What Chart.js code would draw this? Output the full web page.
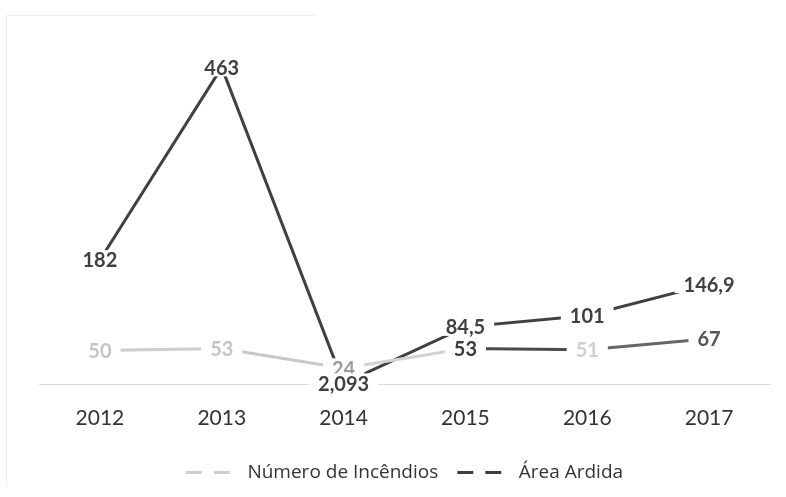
<!DOCTYPE html>
<html>
<head>
<meta charset="utf-8">
<script src="https://cdn.jsdelivr.net/npm/chart.js@4"></script>
<style>
  html, body { margin: 0; padding: 0; background: #fff; }
  #wrap { position: relative; width: 786px; height: 497px; }
  #borda { position: absolute; left: 6px; top: 15px; width: 310px; height: 470px;
           border-left: 1px solid #eee; border-top: 1px solid #f0f0f0; }
</style>
</head>
<body>
<div id="wrap">
  <div id="borda"></div>
  <canvas id="grafico" width="786" height="497"></canvas>
</div>
<script>
// Dados do gráfico
var anos = ['2012', '2013', '2014', '2015', '2016', '2017'];
var numeroIncendios = [50, 53, 24, 53, 51, 67];
var areaArdida = [182, 463, 2.093, 84.5, 101, 146.9];
var rotulosIncendios = ['50', '53', '24', '53', '51', '67'];
var rotulosArea = ['182', '463', '2,093', '84,5', '101', '146,9'];

// cores (o original é uma digitalização, os tons variam)
var coresSegIncendios = ['#cdcdcd', '#c8c8c8', '#d2d2d2', '#4a4a4a', '#666666'];
var coresRotIncendios = ['#c4c4c4', '#c4c4c4', '#9a9a9a', '#3a3a3a', '#cfcfcf', '#555555'];
var corArea = '#404040';

// rótulos com fundo branco que cortam a linha
var rotulosPlugin = {
    id: 'rotulos',
    afterDatasetsDraw: function (chart) {
        var ctx = chart.ctx;
        ctx.save();
        ctx.font = 'bold 20px Lato';
        ctx.textAlign = 'center';
        ctx.textBaseline = 'middle';
        chart.data.datasets.forEach(function (ds, i) {
            var meta = chart.getDatasetMeta(i);
            meta.data.forEach(function (pt, j) {
                var txt = ds.rotulos[j];
                var w = ctx.measureText(txt).width;
                ctx.fillStyle = '#fff';
                ctx.fillRect(pt.x - w / 2 - 9, pt.y - 10, w + 18, 19);
                ctx.fillStyle = ds.coresRotulo ? ds.coresRotulo[j] : corArea;
                ctx.fillText(txt, pt.x, pt.y + 1);
            });
        });
        ctx.restore();
    }
};

var ctx = document.getElementById('grafico').getContext('2d');
new Chart(ctx, {
    type: 'line',
    data: {
        labels: anos,
        datasets: [{
            label: 'Número de Incêndios',
            data: numeroIncendios,
            rotulos: rotulosIncendios,
            coresRotulo: coresRotIncendios,
            borderColor: '#c8c8c8',
            borderWidth: 3,
            pointRadius: 0,
            tension: 0,
            segment: {
                borderColor: function (c) { return coresSegIncendios[c.p0DataIndex]; }
            }
        }, {
            label: 'Área Ardida',
            data: areaArdida,
            rotulos: rotulosArea,
            borderColor: corArea,
            borderWidth: 3,
            pointRadius: 0,
            tension: 0
        }]
    },
    options: {
        responsive: false,
        animation: false,
        layout: { padding: { left: 39, right: 16, top: 42, bottom: 5 } },
        scales: {
            x: {
                offset: true,
                grid: { display: false },
                border: { color: '#dcdcdc', width: 1 },
                ticks: { color: '#333', font: { family: 'Lato', size: 21 }, padding: 13 }
            },
            y: {
                display: false,
                min: 0,
                max: 500
            }
        },
        plugins: {
            tooltip: { enabled: false },
            legend: {
                position: 'bottom',
                labels: {
                    color: '#333',
                    font: { family: 'Open Sans', size: 19 },
                    usePointStyle: true,
                    pointStyleWidth: 52,
                    padding: 19,
                    generateLabels: function (chart) {
                        var itens = Chart.defaults.plugins.legend.labels.generateLabels(chart);
                        itens.forEach(function (it, i) {
                            it.pointStyle = 'line';
                            it.lineWidth = 3;
                            it.lineDash = [16, 12];
                            it.strokeStyle = i === 0 ? '#cfcfcf' : corArea;
                        });
                        return itens;
                    }
                }
            }
        }
    },
    plugins: [rotulosPlugin]
});
</script>
</body>
</html>
